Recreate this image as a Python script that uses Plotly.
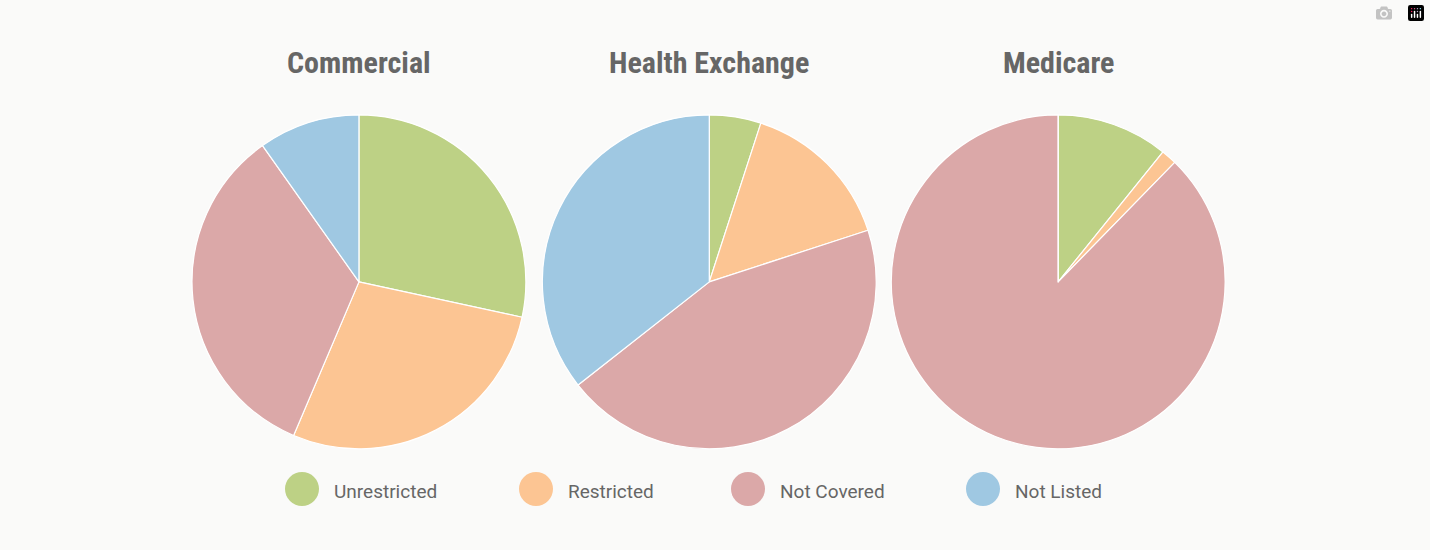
import plotly.graph_objects as go

categories = ["Unrestricted", "Restricted", "Not Covered", "Not Listed"]
colors = ["#bdd185", "#fcc593", "#dba8a8", "#9fc8e2"]
plans = ["Commercial", "Health Exchange", "Medicare"]
commercial = [28.4, 28.0, 33.8, 9.8]
health_exchange = [5.0, 15.0, 44.4, 35.6]
medicare = [10.8, 1.5, 87.7, 0.0]
values = [commercial, health_exchange, medicare]

W, H = 1430, 550
fig = go.Figure()
domains = [[0.134, 0.368], [0.379, 0.613], [0.623, 0.857]]
for name, vals, dom in zip(plans, values, domains):
    fig.add_trace(go.Pie(
        labels=categories, values=vals, sort=False, direction="clockwise", rotation=0,
        marker=dict(colors=colors, line=dict(color="white", width=1.2)),
        textinfo="none", hoverinfo="label+percent", showlegend=False,
        domain=dict(x=dom, y=[0.184, 0.791]), name=name,
    ))
    fig.add_annotation(text=f"<b>{name}</b>", x=(dom[0] + dom[1]) / 2, y=0.887,
                       xref="paper", yref="paper", showarrow=False,
                       xanchor="center", yanchor="middle",
                       font=dict(family="Roboto Condensed, Roboto", size=30, color="#666666"))

# hand-drawn legend with large round markers
legend_x = [302, 536, 748, 983]
r = 17
for cat, col, lx in zip(categories, colors, legend_x):
    fig.add_shape(type="circle", xref="paper", yref="paper",
                  x0=(lx - r) / W, x1=(lx + r) / W,
                  y0=1 - (489 + r) / H, y1=1 - (489 - r) / H,
                  fillcolor=col, line=dict(width=0))
    fig.add_annotation(text=cat, x=(lx + 30) / W, y=1 - 491 / H, xref="paper", yref="paper",
                       showarrow=False, xanchor="left", yanchor="middle",
                       font=dict(family="Roboto", size=19, color="#666666"))

fig.update_layout(
    width=W, height=H, margin=dict(l=0, r=0, t=0, b=0),
    paper_bgcolor="#fafaf9", showlegend=False,
)
fig.write_html("out.html")

with open("out.html", encoding="utf-8") as f:
    html = f.read()
html = html.replace("<body>", '<body style="margin:0;background:#fafaf9">', 1)
with open("out.html", "w", encoding="utf-8") as f:
    f.write(html)
